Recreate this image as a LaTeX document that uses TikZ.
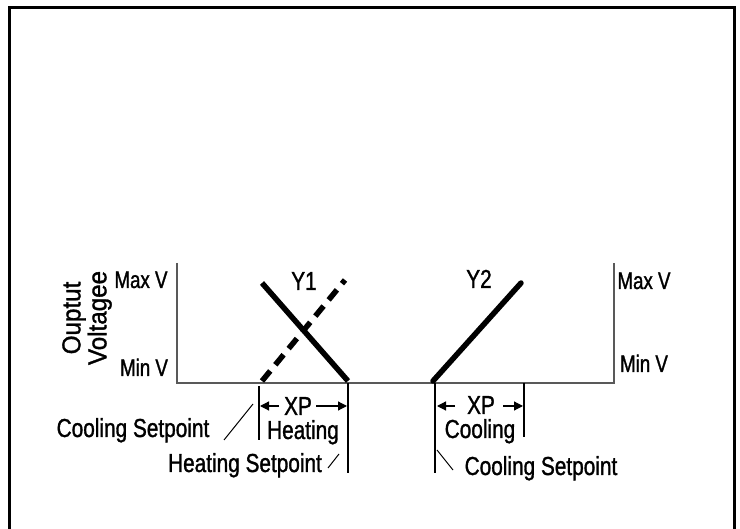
\documentclass[tikz,border=0pt]{standalone}
\usepackage{fontspec}
\setmainfont{Liberation Sans}
\newfontfamily\lblfont[FakeStretch=0.8,FakeBold=1.2]{Liberation Sans}
\newfontfamily\axfont[FakeStretch=0.78,FakeBold=1.2]{Liberation Sans}
\newfontfamily\ylfont[FakeStretch=0.93,FakeBold=1.2]{Liberation Sans}
\usetikzlibrary{arrows.meta}
\begin{document}
\begin{tikzpicture}[x=1pt,y=-1pt,
 lbl/.style={inner sep=0pt, anchor=base, font=\lblfont\fontsize{26}{28}\selectfont},
 axl/.style={inner sep=0pt, anchor=base, font=\axfont\fontsize{24}{26}\selectfont},
 axisline/.style={line width=2pt, draw=black!65},
 curve/.style={line width=5.5pt},
 tickline/.style={line width=1.8pt},
 leader/.style={line width=1pt},
 dimarrow/.style={line width=1.2pt, -{Triangle[length=9pt,width=9pt]}}]
\useasboundingbox (0,0) rectangle (740,529);
\draw[line width=3pt] (9,8) rectangle (734,560);
% axes
\coordinate (TL) at (177,263);
\coordinate (O) at (177,383);
\coordinate (BR) at (614,383);
\coordinate (TR) at (614,263);
\draw[axisline] (TL) -- (O) -- (BR) -- (TR);
% curves
\coordinate (y1a) at (262,283);
\coordinate (y1b) at (348,381);
\coordinate (dsa) at (262,381);
\coordinate (dsb) at (345,280);
\coordinate (y2a) at (433,381);
\coordinate (y2b) at (521,283);
\draw[curve] (y1a) -- (y1b);
\draw[curve, dash pattern=on 13pt off 8pt] (dsa) -- (dsb);
\draw[curve, line cap=round] (y2a) -- (y2b);
% ticks
\coordinate (t1a) at (259,386); \coordinate (t1b) at (259,440);
\coordinate (t2a) at (348,383); \coordinate (t2b) at (348,473);
\coordinate (t3a) at (435,383); \coordinate (t3b) at (435,473);
\coordinate (t4a) at (524,383); \coordinate (t4b) at (524,437);
\draw[tickline] (t1a) -- (t1b);
\draw[tickline] (t2a) -- (t2b);
\draw[tickline] (t3a) -- (t3b);
\draw[tickline] (t4a) -- (t4b);
% dimension arrows
\coordinate (h1) at (279,406); \coordinate (h1e) at (260,406);
\coordinate (h2) at (316,406); \coordinate (h2e) at (347,406);
\coordinate (c1) at (455,406); \coordinate (c1e) at (437,406);
\coordinate (c2) at (503,406); \coordinate (c2e) at (523,406);
\draw[dimarrow] (h1) -- (h1e);
\draw[dimarrow] (h2) -- (h2e);
\draw[dimarrow] (c1) -- (c1e);
\draw[dimarrow] (c2) -- (c2e);
% leaders
\coordinate (l1a) at (224,440); \coordinate (l1b) at (253,404);
\coordinate (l2a) at (328,468); \coordinate (l2b) at (339,454);
\coordinate (l3a) at (437,450); \coordinate (l3b) at (453,470);
\draw[leader] (l1a) -- (l1b);
\draw[leader] (l2a) -- (l2b);
\draw[leader] (l3a) -- (l3b);
% labels
\node[lbl] (xph) at (298,415) {XP};
\node[lbl] (heat) at (303,439) {Heating};
\node[lbl] (xpc) at (481,414) {XP};
\node[lbl] (cool) at (480,438) {Cooling};
\node[lbl] (csl) at (133,437) {Cooling Setpoint};
\node[lbl] (hsl) at (245,472) {Heating Setpoint};
\node[lbl] (csr) at (541,475) {Cooling Setpoint};
\node[lbl] (y1) at (304,290) {Y1};
\node[lbl] (y2) at (479,288) {Y2};
\node[axl] (maxl) at (141,288) {Max V};
\node[axl] (minl) at (144,376) {Min V};
\node[axl] (maxr) at (644,289) {Max V};
\node[axl] (minr) at (644,372) {Min V};
\node[inner sep=0pt, rotate=90, align=center, font=\ylfont\fontsize{26}{26}\selectfont] (ylab) at (87,318) {Ouptut\\Voltagee};
\end{tikzpicture}
\end{document}
